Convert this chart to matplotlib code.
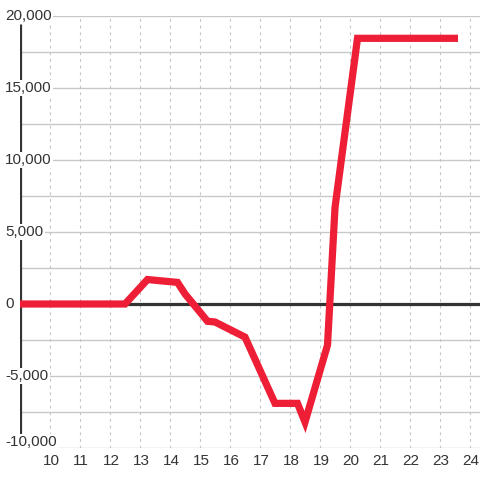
import matplotlib
matplotlib.use("Agg")
import matplotlib.pyplot as plt
import matplotlib.transforms as mtransforms

plt.rcParams['font.family'] = ['Liberation Sans', 'DejaVu Sans']

# data
x_vals = [9.0, 12.5, 13.25, 14.25, 14.5, 15.25, 15.5, 16.5, 17.5, 18.25, 18.5, 19.25, 19.5, 20.25, 23.6]
y_vals = [0, 0, 1700, 1500, 700, -1200, -1250, -2300, -6900, -6900, -8200, -2850, 6700, 18450, 18450]
x_ticks = list(range(10, 25))
y_ticks = [-10000, -5000, 0, 5000, 10000, 15000, 20000]
y_tick_labels = ["-10,000", "-5,000", "0", "5,000", "10,000", "15,000", "20,000"]
y_grid = [-10000, -7500, -5000, -2500, 2500, 5000, 7500, 10000, 12500, 15000, 17500, 20000]

W, H = 480, 480
fig = plt.figure(figsize=(4.8, 4.8), dpi=100)
fig.patch.set_facecolor('white')
ax = fig.add_axes([20 / W, 32 / H, 460 / W, 432 / H])
ax.set_xlim(9.0, 24.333)
ax.set_ylim(-10000, 20000)
ax.set_facecolor('white')
for s in ax.spines.values():
    s.set_visible(False)
ax.set_xticks([])
ax.set_yticks([])

# grid
for g in y_grid:
    ax.axhline(g, color='#c8c8c8', lw=1.0, zorder=1)
for t in x_ticks:
    ax.axvline(t, color='#c4c4c4', lw=0.8, ls=(0, (2.5, 3.5)), zorder=1)

# zero line and left axis line
ax.axhline(0, color='#333333', lw=2.3, zorder=2)
ax.plot([9.0, 9.0], [19450, -9100], color='#333333', lw=2.3, zorder=2,
        solid_capstyle='butt')

# series
ax.plot(x_vals, y_vals, color='#ed1e35', lw=5.2, zorder=4,
        solid_joinstyle='miter', solid_capstyle='butt')

# y tick labels
trans = mtransforms.blended_transform_factory(fig.transFigure, ax.transData)
for v, lab in zip(y_ticks, y_tick_labels):
    yy = v if v != -10000 else -9600
    ax.text(5 / W, yy, lab, transform=trans, ha='left', va='center',
            fontsize=11, color='#333333', zorder=5,
            bbox=dict(facecolor='white', edgecolor='none', pad=1.0))

# x tick labels
transx = mtransforms.blended_transform_factory(ax.transData, fig.transFigure)
for t in x_ticks:
    ax.text(t + 0.03, 1 - 461 / H, str(t), transform=transx, ha='center', va='center',
            fontsize=11, color='#333333', clip_on=False)

fig.savefig('out.png', dpi=100, facecolor='white')
